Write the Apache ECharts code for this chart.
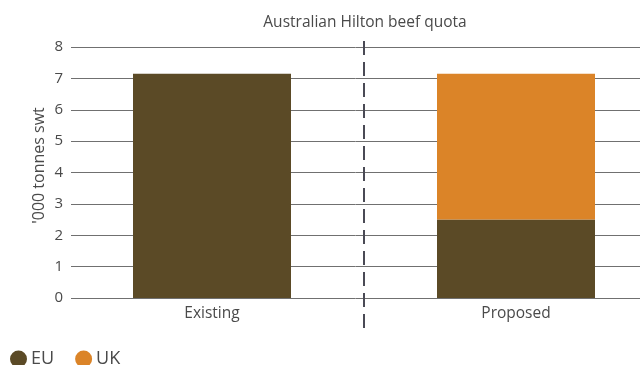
<!DOCTYPE html>
<html>
<head>
<meta charset="utf-8">
<script src="https://cdn.jsdelivr.net/npm/echarts@6/dist/echarts.min.js"></script>
<style>
  html, body { margin: 0; padding: 0; background: #fff; }
  #chart { width: 640px; height: 365px; }
</style>
</head>
<body>
<div id="chart"></div>
<script>
// chart data
const categories = ['Existing', 'Proposed'];
const euValues = [7.15, 2.5];
const ukValues = [0, 4.65];
const yTicks = [0, 1, 2, 3, 4, 5, 6, 7, 8];
const dividerLine = [[1, 0], [1, 1]]; // between the two categories

const textColor = '#4a4a4a';
const font = 'Open Sans';

var chart = echarts.init(document.getElementById('chart'));

var option = {
  animation: false,
  textStyle: { fontFamily: font },
  title: {
    text: 'Australian Hilton beef quota',
    left: 360,
    textAlign: 'center',
    top: 10,
    textStyle: { fontSize: 15.5, fontWeight: 'normal', color: textColor, fontFamily: font }
  },
  legend: {
    left: 5,
    top: 345,
    icon: 'circle',
    itemWidth: 17,
    itemHeight: 17,
    itemGap: 21,
    textStyle: { fontSize: 18, color: textColor, fontFamily: font, padding: [0, 0, 0, -1] },
    data: ['EU', 'UK']
  },
  grid: [
    // gridlines + y labels
    { left: 71, right: 0, top: 47, bottom: 67 },
    // bars
    { left: 60, right: -28, top: 47, bottom: 67, outerBoundsMode: 'none' },
    // dashed divider
    { left: 60, right: -28, top: 40, bottom: 37, outerBoundsMode: 'none' }
  ],
  xAxis: [
    { gridIndex: 0, type: 'category', data: categories, show: false },
    {
      gridIndex: 1, type: 'category', data: categories,
      axisLine: { show: false }, axisTick: { show: false },
      axisLabel: { fontSize: 15.5, color: textColor, margin: 8, fontFamily: font }
    },
    { gridIndex: 2, type: 'value', min: 0, max: 2, show: false }
  ],
  yAxis: [
    {
      gridIndex: 0, type: 'value', min: yTicks[0], max: yTicks[yTicks.length - 1], interval: 1,
      name: "'000 tonnes swt",
      nameLocation: 'middle',
      nameRotate: 90,
      nameGap: 24,
      nameMoveOverlap: false,
      nameTextStyle: { fontSize: 16, color: textColor, fontFamily: font, padding: [0, 0, 0, 14] },
      axisLine: { show: false }, axisTick: { show: false },
      axisLabel: { fontSize: 15, color: textColor, margin: 8, fontFamily: font },
      splitLine: { lineStyle: { color: '#707070', width: 1 } }
    },
    { gridIndex: 1, type: 'value', min: 0, max: 8, interval: 1, show: false, splitLine: { show: false } },
    { gridIndex: 2, type: 'value', min: 0, max: 1, show: false, splitLine: { show: false } }
  ],
  series: [
    {
      name: 'EU', type: 'bar', stack: 'q', xAxisIndex: 1, yAxisIndex: 1,
      barWidth: 158, data: euValues,
      itemStyle: { color: '#5b4a26' }
    },
    {
      name: 'UK', type: 'bar', stack: 'q', xAxisIndex: 1, yAxisIndex: 1,
      barWidth: 158, data: ukValues,
      itemStyle: { color: '#db8428' }
    },
    {
      type: 'line', xAxisIndex: 2, yAxisIndex: 2, data: dividerLine,
      symbol: 'none', silent: true,
      lineStyle: { color: '#4a4a55', width: 2, type: [14, 7] }
    }
  ]
};
chart.setOption(option);
</script>
</body>
</html>
